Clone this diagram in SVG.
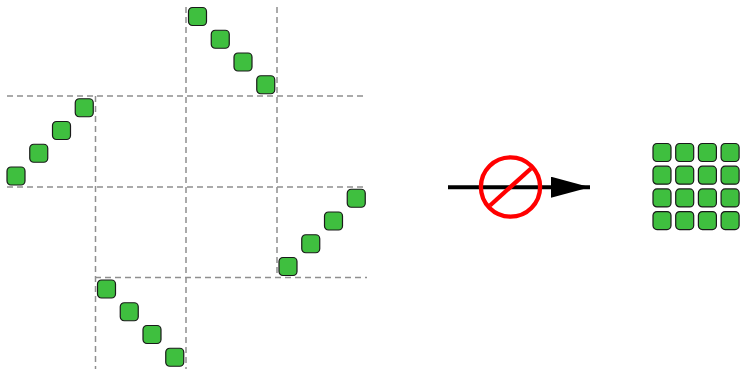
<svg xmlns="http://www.w3.org/2000/svg" width="741" height="369" viewBox="0 0 741 369">
  <style>
    .grid { stroke: #8f8f8f; stroke-width: 1.5; stroke-dasharray: 6 4; fill: none; }
    .blk { fill: #3fbf3f; stroke: #1a1a1a; stroke-width: 1.2; }
  </style>
  <defs>
    <rect id="b" width="18" height="18" rx="4" ry="4"/>
    <marker id="ah" viewBox="0 0 39 21" refX="39" refY="10.5" markerWidth="39" markerHeight="21" markerUnits="userSpaceOnUse" orient="auto">
      <path d="M0,0 L39,10.5 L0,21 Z" fill="#000"/>
    </marker>
  </defs>
  <rect width="741" height="369" fill="#fff"/>

  <!-- dashed partition lines -->
  <g id="grid">
    <line class="grid" x1="7" y1="96" x2="367" y2="96"/>
    <line class="grid" x1="7" y1="187" x2="367" y2="187"/>
    <line class="grid" x1="95" y1="277.5" x2="367" y2="277.5"/>
    <line class="grid" x1="95.5" y1="96" x2="95.5" y2="369"/>
    <line class="grid" x1="186" y1="7" x2="186" y2="369"/>
    <line class="grid" x1="277" y1="7" x2="277" y2="277.5"/>
  </g>

  <!-- diagonal block runs -->
  <g id="run-top" class="blk">
    <use href="#b" x="188.5" y="7.5"/>
    <use href="#b" x="211.25" y="30.25"/>
    <use href="#b" x="234" y="53"/>
    <use href="#b" x="256.75" y="75.75"/>
  </g>
  <g id="run-left" class="blk">
    <use href="#b" x="7" y="167"/>
    <use href="#b" x="29.75" y="144.25"/>
    <use href="#b" x="52.5" y="121.5"/>
    <use href="#b" x="75.25" y="98.75"/>
  </g>
  <g id="run-right" class="blk">
    <use href="#b" x="279" y="257.5"/>
    <use href="#b" x="301.75" y="234.75"/>
    <use href="#b" x="324.5" y="212"/>
    <use href="#b" x="347.25" y="189.25"/>
  </g>
  <g id="run-bottom" class="blk">
    <use href="#b" x="97.5" y="280"/>
    <use href="#b" x="120.25" y="302.75"/>
    <use href="#b" x="143" y="325.5"/>
    <use href="#b" x="165.75" y="348.25"/>
  </g>

  <!-- forbidden transformation arrow -->
  <g id="connectors">
    <line x1="448" y1="187.2" x2="590" y2="187.2" stroke="#000" stroke-width="4" marker-end="url(#ah)"/>
  </g>
  <g id="forbidden" fill="none" stroke="#ff0000" stroke-width="4.3">
    <circle cx="510.5" cy="187" r="29.6"/>
    <line x1="490" y1="205.5" x2="531" y2="168.5"/>
  </g>

  <!-- compact 4x4 block -->
  <g id="packed" class="blk">
    <use href="#b" x="653" y="143.5"/>
    <use href="#b" x="675.7" y="143.5"/>
    <use href="#b" x="698.4" y="143.5"/>
    <use href="#b" x="721.1" y="143.5"/>
    <use href="#b" x="653" y="166.2"/>
    <use href="#b" x="675.7" y="166.2"/>
    <use href="#b" x="698.4" y="166.2"/>
    <use href="#b" x="721.1" y="166.2"/>
    <use href="#b" x="653" y="188.9"/>
    <use href="#b" x="675.7" y="188.9"/>
    <use href="#b" x="698.4" y="188.9"/>
    <use href="#b" x="721.1" y="188.9"/>
    <use href="#b" x="653" y="211.6"/>
    <use href="#b" x="675.7" y="211.6"/>
    <use href="#b" x="698.4" y="211.6"/>
    <use href="#b" x="721.1" y="211.6"/>
  </g>
</svg>
